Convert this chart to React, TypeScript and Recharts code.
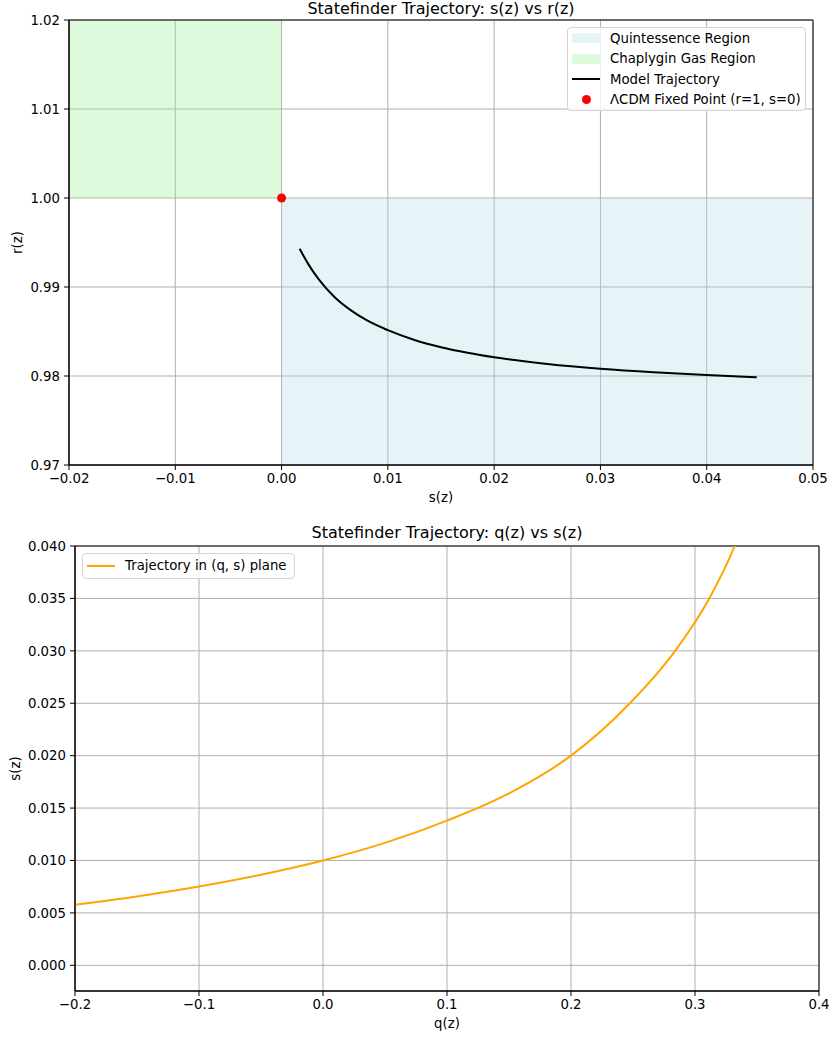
import React from 'react';
import { ComposedChart, LineChart, Line, Scatter, XAxis, YAxis, CartesianGrid, ReferenceArea } from 'recharts';

// ---- Top panel data: statefinder trajectory s(z) vs r(z)
const trajS = [0.0017, 0.0025, 0.0035, 0.005, 0.0065, 0.008, 0.01, 0.0125, 0.015, 0.0175, 0.02, 0.025, 0.03, 0.035, 0.04, 0.0447];
const trajR = [0.9943, 0.9926, 0.99085, 0.98885, 0.9874, 0.98627, 0.98515, 0.98405, 0.98324, 0.98261, 0.9821, 0.98135, 0.98081, 0.98041, 0.9801, 0.97987];
const lcdmS = [0];
const lcdmR = [1];

// ---- Bottom panel data: q(z) vs s(z)
const qVals = [-0.2, -0.15, -0.1, -0.05, 0, 0.05, 0.1, 0.15, 0.2, 0.2475, 0.284, 0.3115, 0.332, 0.347];
const sVals = [0.00578, 0.00657, 0.00751, 0.00864, 0.0100, 0.01168, 0.0138, 0.0164, 0.0200, 0.0250, 0.0300, 0.0350, 0.0400, 0.0450];

// ---- Ticks
const topXTicks = [-0.02, -0.01, 0, 0.01, 0.02, 0.03, 0.04, 0.05];
const topYTicks = [0.97, 0.98, 0.99, 1.0, 1.01, 1.02];
const botXTicks = [-0.2, -0.1, 0, 0.1, 0.2, 0.3, 0.4];
const botYTicks = [0, 0.005, 0.01, 0.015, 0.02, 0.025, 0.03, 0.035, 0.04];

// ---- Labels
const topTitle = 'Statefinder Trajectory: s(z) vs r(z)';
const botTitle = 'Statefinder Trajectory: q(z) vs s(z)';
const topLegend = ['Quintessence Region', 'Chaplygin Gas Region', 'Model Trajectory', '\u039BCDM Fixed Point (r=1, s=0)'];
const botLegend = ['Trajectory in (q, s) plane'];

const trajData = trajS.map((s, i) => ({ s, r: trajR[i] }));
const lcdmData = lcdmS.map((s, i) => ({ s, r: lcdmR[i] }));
const qsData = qVals.map((q, i) => ({ q, s: sVals[i] }));

const FONT = "'DejaVu Sans', sans-serif";
const fmt = (d: number) => (v: number) => v.toFixed(d).replace('-', '\u2212');
const tickStyle = { fontSize: 13.3, fill: '#000' };
const GRID = '#b0b0b0';

const RedDot = (p: any) => <circle cx={p.cx} cy={p.cy} r={4.5} fill="#ff0000" />;

const rowStyle: React.CSSProperties = { display: 'flex', alignItems: 'center', height: 20.5 };
const handle: React.CSSProperties = { width: 28, height: 20.5, display: 'flex', alignItems: 'center', justifyContent: 'center', marginRight: 10 };

export default function App() {
  return (
    <div style={{ position: 'absolute', left: 0, top: 0, width: 831, height: 1040, fontFamily: FONT, background: '#fff' }}>
      <div style={{ position: 'absolute', left: 0, top: 0 }}>
        <ComposedChart width={831} height={515} margin={{ top: 20, right: 18, bottom: 0, left: 0 }}>
          <CartesianGrid stroke={GRID} strokeWidth={1} />
          <XAxis
            type="number"
            dataKey="s"
            domain={[-0.02, 0.05]}
            ticks={topXTicks}
            tickFormatter={fmt(2)}
            allowDataOverflow
            height={50}
            tick={tickStyle}
            tickSize={5}
            tickMargin={4}
            axisLine={{ stroke: '#000' }}
            tickLine={{ stroke: '#000' }}
          />
          <YAxis
            type="number"
            dataKey="r"
            domain={[0.97, 1.02]}
            ticks={topYTicks}
            tickFormatter={fmt(2)}
            allowDataOverflow
            width={69}
            tick={tickStyle}
            tickSize={5}
            tickMargin={4}
            axisLine={{ stroke: '#000' }}
            tickLine={{ stroke: '#000' }}
          />
          <ReferenceArea x1={0} x2={0.05} y1={0.97} y2={1.0} fill="#ADD8E6" fillOpacity={0.3} stroke="none" />
          <ReferenceArea x1={-0.02} x2={0} y1={1.0} y2={1.02} fill="#90EE90" fillOpacity={0.3} stroke="none" />
          <Line data={trajData} dataKey="r" type="monotone" stroke="#000" strokeWidth={2} dot={false} isAnimationActive={false} />
          <Scatter data={lcdmData} dataKey="r" fill="#ff0000" shape={RedDot} isAnimationActive={false} />
          <ReferenceArea x1={-0.02} x2={0.05} y1={0.97} y2={1.02} fill="none" stroke="#000" strokeWidth={1} />
        </ComposedChart>
      </div>

      <div style={{ position: 'absolute', left: 0, top: 515 }}>
        <LineChart width={831} height={525} data={qsData} margin={{ top: 31, right: 12, bottom: 0, left: 0 }}>
          <CartesianGrid stroke={GRID} strokeWidth={1} />
          <XAxis
            type="number"
            dataKey="q"
            domain={[-0.2, 0.4]}
            ticks={botXTicks}
            tickFormatter={fmt(1)}
            allowDataOverflow
            height={49}
            tick={tickStyle}
            tickSize={5}
            tickMargin={4}
            axisLine={{ stroke: '#000' }}
            tickLine={{ stroke: '#000' }}
          />
          <YAxis
            type="number"
            domain={[-0.00245, 0.04]}
            ticks={botYTicks}
            tickFormatter={fmt(3)}
            allowDataOverflow
            width={75}
            tick={tickStyle}
            tickSize={5}
            tickMargin={4}
            axisLine={{ stroke: '#000' }}
            tickLine={{ stroke: '#000' }}
          />
          <Line dataKey="s" type="monotone" stroke="#FFA500" strokeWidth={2} dot={false} isAnimationActive={false} />
          <ReferenceArea x1={-0.2} x2={0.4} y1={-0.00245} y2={0.04} fill="none" stroke="#000" strokeWidth={1} />
        </LineChart>
      </div>

      {/* titles and axis labels */}
      <svg width={831} height={1040} style={{ position: 'absolute', left: 0, top: 0, pointerEvents: 'none' }}>
        <text x={441} y={14} textAnchor="middle" fontSize={16} fill="#000">{topTitle}</text>
        <text x={441} y={502} textAnchor="middle" fontSize={13.3} fill="#000">s(z)</text>
        <text x={22} y={242.5} textAnchor="middle" fontSize={13.3} fill="#000" transform="rotate(-90 22 242.5)">r(z)</text>
        <text x={447} y={538} textAnchor="middle" fontSize={16} fill="#000">{botTitle}</text>
        <text x={447} y={1028} textAnchor="middle" fontSize={13.3} fill="#000">q(z)</text>
        <text x={20} y={768.5} textAnchor="middle" fontSize={13.3} fill="#000" transform="rotate(-90 20 768.5)">s(z)</text>
      </svg>

      {/* top legend */}
      <div style={{ position: 'absolute', left: 567, top: 27, width: 239, height: 84, boxSizing: 'border-box', background: 'rgba(255,255,255,0.8)', border: '1px solid #d5d5d5', borderRadius: 4, padding: '0 0 0 4px', fontSize: 13.3, color: '#000' }}>
        <div style={rowStyle}>
          <div style={handle}><div style={{ width: 28, height: 10, background: 'rgba(173,216,230,0.3)' }} /></div>
          <span>{topLegend[0]}</span>
        </div>
        <div style={rowStyle}>
          <div style={handle}><div style={{ width: 28, height: 10, background: 'rgba(144,238,144,0.3)' }} /></div>
          <span>{topLegend[1]}</span>
        </div>
        <div style={rowStyle}>
          <div style={handle}><div style={{ width: 28, height: 2, background: '#000' }} /></div>
          <span>{topLegend[2]}</span>
        </div>
        <div style={rowStyle}>
          <div style={handle}><div style={{ width: 9, height: 9, borderRadius: '50%', background: '#ff0000' }} /></div>
          <span>{topLegend[3]}</span>
        </div>
      </div>

      {/* bottom legend */}
      <div style={{ position: 'absolute', left: 82, top: 553, height: 26, boxSizing: 'border-box', background: 'rgba(255,255,255,0.8)', border: '1px solid #d5d5d5', borderRadius: 4, padding: '1.5px 7px 0 4px', fontSize: 13.3, color: '#000' }}>
        <div style={rowStyle}>
          <div style={handle}><div style={{ width: 28, height: 2, background: '#FFA500' }} /></div>
          <span>{botLegend[0]}</span>
        </div>
      </div>
    </div>
  );
}
